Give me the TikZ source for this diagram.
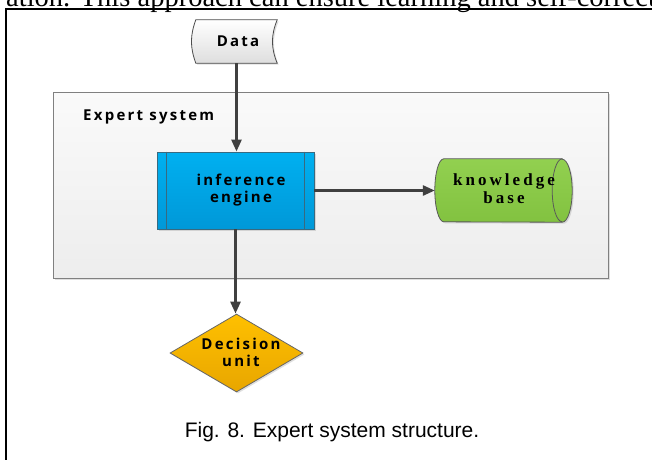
\documentclass[tikz,border=0pt]{standalone}
\usepackage{fontspec}
\setmainfont{Liberation Serif}
\newfontfamily\boxfont{Open Sans}[LetterSpace=15]
\newfontfamily\kbfont{Liberation Serif}[LetterSpace=18]
\newfontfamily\capfont{Liberation Sans}
\usepackage{tikz}
\usetikzlibrary{shapes.geometric,arrows.meta,shadows}

\definecolor{arrowgray}{HTML}{404040}
\definecolor{iefill}{HTML}{00B0F0}
\definecolor{iedark}{HTML}{0098D8}
\definecolor{ieline}{HTML}{386A80}
\definecolor{kbfill}{HTML}{92D050}
\definecolor{kbdark}{HTML}{82C240}
\definecolor{decfill}{HTML}{FFC000}
\definecolor{decdark}{HTML}{E8A600}

\tikzset{
  boxtext/.style={font=\boxfont\bfseries\fontsize{15}{17}\selectfont, align=center, inner sep=0pt},
  kbtext/.style={font=\kbfont\bfseries\fontsize{17}{18}\selectfont, align=center, inner sep=0pt},
  flow/.style={draw=arrowgray, line width=2.6pt, -{Triangle[length=12pt,width=10pt]}},
  lightshadow/.style={drop shadow={opacity=0.25, shadow xshift=1.5pt, shadow yshift=-1.5pt}},
}

\begin{document}
\begin{tikzpicture}[x=1pt,y=-1pt]
\clip (0,0) rectangle (652,459);

% 上方正文（被截断）
\node[anchor=base west, inner sep=0pt, font=\fontsize{28.5}{30}\selectfont] (bodytext) at (6,6)
  {ation. This approach can ensure learning and self-correct};
% 外框
\draw[line width=2pt] (6,470) -- (6,8.5) -- (665,8.5);

% 专家系统
\node[draw=black!50, line width=0.9pt, top color=black!2, bottom color=black!7, lightshadow,
  minimum width=555, minimum height=186] (sys) at (330.5,185) {};
\node[boxtext, anchor=base west] (systext) at (83,120) {Expert system};

% 数据
\node[minimum width=81, minimum height=43, inner sep=0pt] (data) at (236.5,41.5) {};
\draw[draw=black!70, line width=0.8pt, top color=white, bottom color=black!13, lightshadow]
  (data.north east) -- (data.north west) to[bend right=20] (data.south west)
  -- (data.south east) to[bend left=22] cycle;
\node[boxtext] (datatext) at (238,41) {Data};

% 推理机
\node[draw=ieline, line width=0.9pt, top color=iefill, bottom color=iedark, lightshadow,
  minimum width=157, minimum height=77] (ie) at (235.5,190.5) {};
\draw[ieline, line width=0.9pt] ([xshift=10pt]ie.north west) -- ([xshift=10pt]ie.south west);
\draw[ieline, line width=0.9pt] ([xshift=-10.5pt]ie.north east) -- ([xshift=-10.5pt]ie.south east);
\node[boxtext] (ietext) at (241,190.5) {inference\\engine};

% 知识库
\node[minimum width=137, minimum height=63, inner sep=0pt] (kb) at (503.5,190.5) {};
\draw[draw=black!65, line width=0.8pt, top color=kbfill, bottom color=kbdark, lightshadow]
  ([xshift=-10pt]kb.north east) -- ([xshift=9pt]kb.north west)
  arc[start angle=90, end angle=270, x radius=9pt, y radius=31.5pt]
  -- ([xshift=-10pt]kb.south east)
  arc[start angle=270, end angle=450, x radius=10pt, y radius=31.5pt] -- cycle;
\draw[draw=black!65, line width=0.8pt] ([xshift=-10pt]kb.north east)
  arc[start angle=90, end angle=270, x radius=10pt, y radius=31.5pt];
\node[kbtext] (kbtext) at (504,189) {knowledge\\base};

% 决策单元
\node[diamond, aspect=1.7, draw=black!60, line width=0.8pt, top color=decfill, bottom color=decdark,
  lightshadow, minimum width=133, minimum height=78, inner sep=0pt] (dec) at (236.5,353) {};
\node[boxtext] (dectext) at (241,352) {Decision\\unit};

% 箭头
\draw[flow] (data.south) -- (data.south |- ie.north);
\draw[flow] (ie.east) -- (kb.west);
\draw[flow] (ie.south) -- (ie.south |- dec.north);

% 图题
\node[anchor=base, inner sep=0pt, font=\capfont\fontsize{21}{24}\selectfont] (caption) at (332,437)
  {Fig. 8. Expert system structure.};
\end{tikzpicture}
\end{document}
